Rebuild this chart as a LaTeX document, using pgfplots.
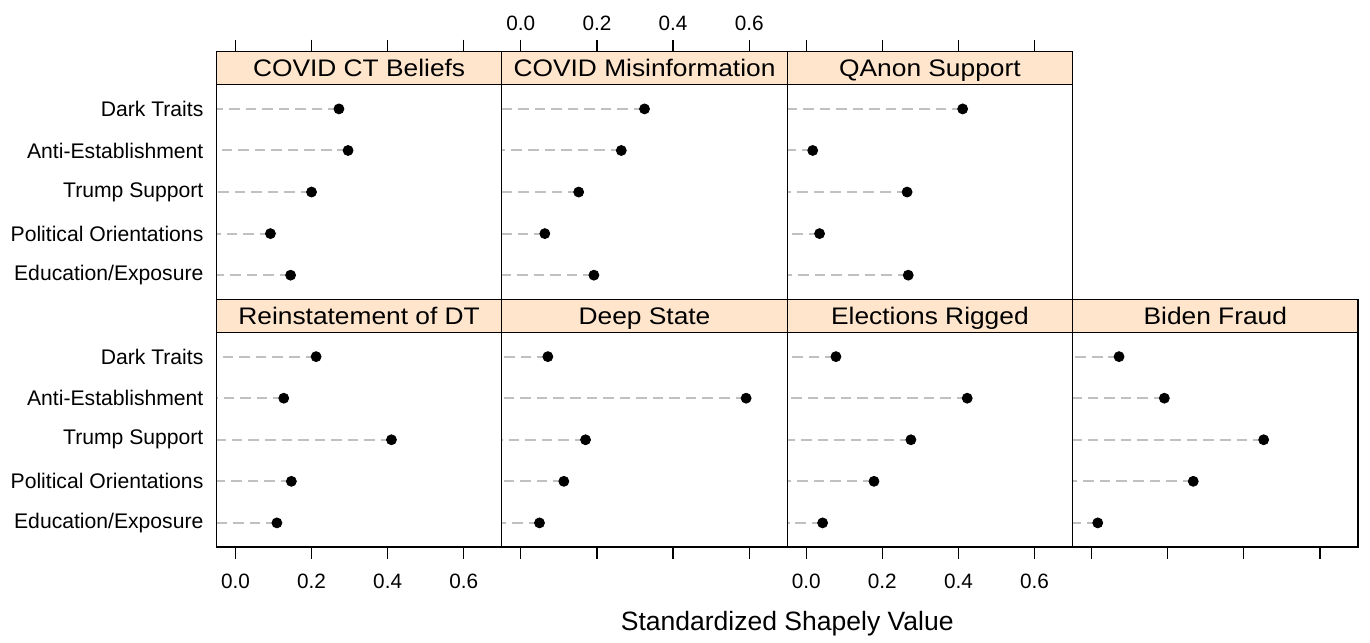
\documentclass[border=0pt]{standalone}
\usepackage{fontspec}
\setmainfont{Liberation Sans}
\newfontfamily\stripfont{Liberation Sans}[FakeStretch=1.1]
\usepackage{pgfplots}
\pgfplotsset{compat=1.18}
\usepackage{pgfplotstable}
\usepgfplotslibrary{groupplots}
\usetikzlibrary{calc}

\definecolor{stripbg}{HTML}{FFE5CC}
\definecolor{dashgray}{HTML}{C0C0C0}

% r: 5 = Dark Traits ... 1 = Education/Exposure
\pgfplotstableread{
r ct    mis   qanon reinst deep  elect biden
5 0.272 0.325 0.411 0.212  0.071 0.078 0.072
4 0.296 0.264 0.017 0.127  0.592 0.423 0.191
3 0.200 0.152 0.265 0.410  0.170 0.275 0.452
2 0.092 0.063 0.035 0.147  0.113 0.178 0.267
1 0.145 0.192 0.268 0.109  0.049 0.043 0.016
}\shap

% panel strip on top of each axis (panel part ends at 5.58 of 0.42..6.38)
\newcommand\strip[1]{%
  \fill[stripbg] (rel axis cs:0,0.8658) rectangle (rel axis cs:1,1);
  \draw[line width=0.6pt] (rel axis cs:0,0.8658) -- (rel axis cs:1,0.8658);
  \node[font=\stripfont\fontsize{12}{14}\selectfont, anchor=base, inner sep=0pt]
    at (rel axis cs:0.5,0.899) {#1};
}
\newcommand\shapdots[1]{%
  \addplot[only marks, mark=*, mark size=2.5pt, black,
    error bars/.cd, x dir=minus, x explicit, error mark=none,
    error bar style={dashgray, line width=1pt, dash pattern=on 5.3pt off 3pt}]
    table[x=#1, y=r, x error expr=\thisrow{#1}+0.05] {\shap};
}

\begin{document}
\begin{tikzpicture}
\begin{groupplot}[
  group style={group size=4 by 2, horizontal sep=0pt, vertical sep=0pt,
    yticklabels at=edge left},
  scale only axis, width=143.1pt, height=124.2pt,
  xmin=-0.05, xmax=0.70, ymin=0.42, ymax=6.38,
  xtick={0,0.2,0.4,0.6},
  xticklabels={0.0,0.2,0.4,0.6},
  ytick={1,...,5},
  yticklabels={Education/Exposure,Political Orientations,Trump Support,Anti-Establishment,Dark Traits},
  y tick style={draw=none},
  tick align=outside, major tick length=6pt,
  x tick style={black, line width=0.6pt},
  axis line style={line width=0.6pt},
  axis on top,
  x tick label style={font=\fontsize{10.4}{12}\selectfont},
  y tick label style={font=\fontsize{10.6}{12}\selectfont, xshift=3pt},
]
\nextgroupplot[xtick pos=upper, xticklabels={}]
\strip{COVID CT Beliefs}
\shapdots{ct}
\nextgroupplot[xtick pos=upper, xticklabel pos=upper, x tick label style={yshift=1pt}]
\strip{COVID Misinformation}
\shapdots{mis}
\nextgroupplot[xtick pos=upper, xticklabels={}]
\strip{QAnon Support}
\shapdots{qanon}
\nextgroupplot[group/empty plot]
\nextgroupplot[xtick pos=lower, xticklabel pos=lower, x tick label style={yshift=-3.8pt}]
\strip{Reinstatement of DT}
\shapdots{reinst}
\nextgroupplot[xtick pos=lower, xticklabels={}]
\strip{Deep State}
\shapdots{deep}
\nextgroupplot[xtick pos=lower, xticklabel pos=lower, x tick label style={yshift=-3.8pt}]
\strip{Elections Rigged}
\shapdots{elect}
\nextgroupplot[xtick pos=lower, xticklabels={}]
\strip{Biden Fraud}
\shapdots{biden}
\end{groupplot}
\node[font=\fontsize{13.3}{16}\selectfont] at ($(group c1r2.south west)!0.5!(group c4r2.south east)+(0,-38.2pt)$) {Standardized Shapely Value};
\path ([xshift=-108.5pt,yshift=25.85pt]group c1r1.north west) rectangle ([xshift=4pt,yshift=-45.65pt]group c4r2.south east);
\end{tikzpicture}
\end{document}
